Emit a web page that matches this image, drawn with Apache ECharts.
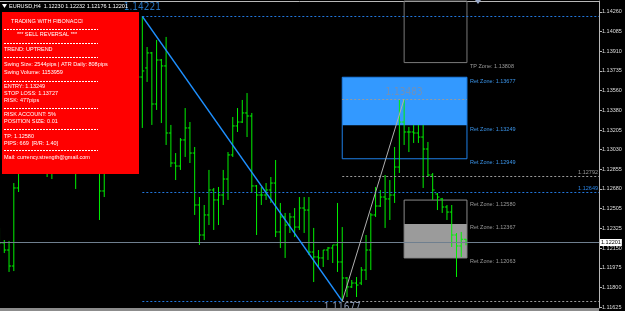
<!DOCTYPE html>
<html><head><meta charset="utf-8">
<script src="https://cdn.jsdelivr.net/npm/echarts@6/dist/echarts.min.js"></script>
<style>html,body{margin:0;padding:0;background:#000;overflow:hidden}#c{width:625px;height:311px}</style>
</head><body><div id="c"></div>
<script>
// ---- data (EURUSD H4) ----
const opens = [1.12268,1.12197,1.12134,1.11991,1.12688,1.12938,1.13027,1.13117,1.12983,1.13072,
1.12938,1.13027,1.12849,1.13027,1.13161,1.13117,1.12893,1.12938,1.13072,1.13027,
1.12956,1.12893,1.12661,1.12893,1.13161,1.13340,1.13519,1.13652,1.13786,1.13876,
1.13679,1.13760,1.13894,1.13438,1.13831,1.13778,1.13179,1.12911,1.12884,1.13117,
1.13224,1.13000,1.12536,1.12268,1.12447,1.12670,1.12581,1.12625,1.12768,1.12983,
1.13242,1.13277,1.13358,1.13331,1.12706,1.12625,1.12625,1.12670,1.12732,1.12295,
1.12429,1.12357,1.12429,1.12339,1.12509,1.12491,1.12116,1.12072,1.12063,1.12134,
1.12152,1.12179,1.12027,1.11884,1.11804,1.11839,1.11839,1.11955,1.12134,1.12447,
1.12527,1.12607,1.12590,1.12625,1.12875,1.13277,1.13188,1.13188,1.13179,1.13143,
1.13036,1.12804,1.12634,1.12590,1.12518,1.12473,1.12268,1.12170,1.12230];
const highs = [1.12331,1.12223,1.12214,1.12732,1.13027,1.13117,1.13206,1.13251,1.13161,1.13206,
1.13072,1.13117,1.13072,1.13206,1.13295,1.13161,1.13027,1.13117,1.13161,1.13117,
1.13072,1.13027,1.12938,1.13206,1.13385,1.13563,1.13742,1.13831,1.13965,1.14054,
1.14221,1.13947,1.13903,1.14010,1.13840,1.14037,1.13251,1.13000,1.13134,1.13402,
1.13277,1.13054,1.12607,1.12536,1.12849,1.12688,1.12697,1.12849,1.13009,1.13322,
1.13402,1.13474,1.13536,1.13358,1.12715,1.12697,1.12732,1.12786,1.12938,1.12554,
1.12465,1.12465,1.12509,1.12607,1.12607,1.12607,1.12331,1.12134,1.12134,1.12161,
1.12179,1.12554,1.12339,1.11893,1.11866,1.11893,1.11982,1.12268,1.12465,1.12697,
1.12670,1.12804,1.12759,1.13054,1.13474,1.13483,1.13233,1.13251,1.13251,1.13251,
1.13099,1.12822,1.12643,1.12599,1.12536,1.12536,1.12286,1.12295,1.12232];
const lows = [1.12134,1.12107,1.11938,1.11946,1.12652,1.12849,1.12893,1.12938,1.12849,1.12866,
1.12786,1.12768,1.12822,1.12938,1.13027,1.12849,1.12679,1.12866,1.12938,1.12893,
1.12831,1.12402,1.12607,1.12849,1.13117,1.13295,1.13429,1.13563,1.13697,1.13652,
1.13224,1.13635,1.13251,1.13385,1.13268,1.13072,1.12875,1.12759,1.12849,1.12965,
1.12911,1.12447,1.12179,1.12223,1.12357,1.12313,1.12357,1.12536,1.12581,1.12965,
1.13188,1.13268,1.13143,1.12652,1.12268,1.12536,1.12581,1.12554,1.12250,1.12152,
1.12063,1.12286,1.12250,1.12313,1.12286,1.12089,1.11848,1.11982,1.11982,1.12045,
1.12018,1.11938,1.11677,1.11714,1.11795,1.11714,1.11821,1.11866,1.11955,1.12429,
1.12518,1.12331,1.12402,1.12554,1.12822,1.13072,1.13009,1.13090,1.13090,1.12688,
1.12786,1.12581,1.12491,1.12465,1.12402,1.12161,1.11893,1.12072,1.12176];
const closes = [1.12197,1.12134,1.11991,1.12688,1.12938,1.13027,1.13117,1.12983,1.13072,1.12938,
1.13027,1.12849,1.13027,1.13161,1.13117,1.12893,1.12938,1.13072,1.13027,1.12956,
1.12893,1.12661,1.12893,1.13161,1.13340,1.13519,1.13652,1.13786,1.13876,1.13679,
1.13733,1.13894,1.13438,1.13831,1.13778,1.13179,1.12911,1.12884,1.13117,1.13224,
1.13000,1.12536,1.12268,1.12447,1.12670,1.12581,1.12625,1.12768,1.12983,1.13242,
1.13277,1.13358,1.13331,1.12706,1.12625,1.12625,1.12670,1.12732,1.12295,1.12429,
1.12357,1.12429,1.12339,1.12509,1.12491,1.12116,1.12072,1.12063,1.12134,1.12152,
1.12179,1.12027,1.11884,1.11804,1.11839,1.11821,1.11955,1.12134,1.12447,1.12527,
1.12607,1.12590,1.12625,1.12875,1.13277,1.13188,1.13188,1.13179,1.13143,1.13036,
1.12804,1.12670,1.12607,1.12518,1.12473,1.12268,1.12170,1.12230,1.12201];

const priceTicks = [1.14260,1.14085,1.13910,1.13735,1.13560,1.13380,1.13205,1.13030,
  1.12855,1.12680,1.12505,1.12325,1.12150,1.11975,1.11800,1.11625];

// swing points: high -> low -> retracement high
const swingBars = [30, 72, 85];
const swingPrices = [1.14221, 1.11677, 1.13483];

// zone levels (labels on the right of the boxes)
const zoneNames  = ['TP Zone','Ret Zone','Ret Zone','Ret Zone','Ret Zone','Ret Zone','Ret Zone'];
const zonePrices = [1.13808, 1.13677, 1.13249, 1.12949, 1.12580, 1.12367, 1.12063];
const zoneKinds  = ['tp','ret','ret','ret','tp','tp','tp'];

const lastPrice = 1.12201;
const levelA = 1.12792;
const levelB = 1.12649;

const panelLines = ['TRADING WITH FIBONACCI','*** SELL REVERSAL ***','TREND: UPTREND',
 'Swing Size: 2544pips | ATR Daily: 808pips','Swing Volume: 1153959',
 'ENTRY: 1.13249','STOP LOSS: 1.13727','RISK: 477pips',
 'RISK ACCOUNT: 5%','POSITION SIZE: 0.01',
 'TP: 1.12580','PIPS: 669  [R/R: 1.40]',
 'Mail: currency.strength@gmail.com'];
const headerText = 'EURUSD,H4  1.12230 1.12232 1.12176 1.12201';

// ---- chart ----
const X_MIN = 0.1, X_MAX = 125.94, Y_MIN = 1.11616, Y_MAX = 1.14358;
const BOX_END = 98.2;
const F = '"Liberation Sans", Arial, sans-serif';
const FN = '"Liberation Sans Narrow", "Arial Narrow", "DejaVu Sans Condensed", sans-serif';

const bars = opens.map((o,i)=>[i,o,highs[i],lows[i],closes[i]]);
const [hiBar, loBar, pkBar] = swingBars;
const [hiP, loP, pkP] = swingPrices;

const chart = echarts.init(document.getElementById('c'), null, {renderer:'canvas'});

const blueDot = {color:'#2277dd', type:[2,2], width:1};
const greyDash = {color:'#9a9a9a', type:[2,2], width:1};

const swingLabelStyles = [
  {position:'top', distance:4, color:'#2e8fee'},
  {position:'bottom', distance:1, color:'#a8b8d8'},
  {position:'top', distance:2, color:'#7f8fa8'}
];

const option = {
  backgroundColor:'#000',
  animation:false,
  grid:{left:0, right:26, top:1, bottom:3},
  xAxis:{type:'value', min:X_MIN, max:X_MAX, position:'top',
    axisLine:{show:true, lineStyle:{color:'#b8b8b8'}}, axisTick:{show:false},
    axisLabel:{show:false}, splitLine:{show:false}},
  yAxis:{type:'value', min:Y_MIN, max:Y_MAX, position:'right',
    axisLine:{show:true, lineStyle:{color:'#b8b8b8'}},
    axisTick:{show:true, length:3, customValues:priceTicks, lineStyle:{color:'#b8b8b8'}},
    axisLabel:{show:true, customValues:priceTicks, margin:3, color:'#dcdcdc',
      fontSize:5.5, fontFamily:F, formatter:v=>v.toFixed(5)},
    splitLine:{show:false}},
  series:[
    { // zone boxes
      type:'scatter', data:[], z:1, silent:true,
      markArea:{silent:true, label:{show:false}, data:[
        [{coord:[loBar, zonePrices[1]], itemStyle:{color:'#3399ff', borderWidth:0}}, {coord:[BOX_END, zonePrices[2]]}],
        [{coord:[loBar, zonePrices[1]], itemStyle:{color:'rgba(0,0,0,0)', borderColor:'#1e7fe6', borderWidth:1}}, {coord:[BOX_END, zonePrices[3]]}],
        [{coord:[pkBar, zonePrices[5]], itemStyle:{color:'#9b9b9b', borderWidth:0}}, {coord:[BOX_END, zonePrices[6]]}],
        [{coord:[pkBar, zonePrices[4]], itemStyle:{color:'rgba(0,0,0,0)', borderColor:'#8a8a8a', borderWidth:1}}, {coord:[BOX_END, zonePrices[6]]}],
        [{coord:[pkBar, zonePrices[0]], itemStyle:{color:'rgba(0,0,0,0)', borderColor:'#7a7a7a', borderWidth:1}}, {coord:[BOX_END, Y_MAX+0.0005]}]
      ]}
    },
    { // OHLC bars
      type:'custom', z:3, clip:true, data:bars, encode:{x:0, y:[1,2,3,4]},
      renderItem:function(params, api){
        const x = api.value(0);
        const o = api.coord([x, api.value(1)]);
        const h = api.coord([x, api.value(2)]);
        const l = api.coord([x, api.value(3)]);
        const c = api.coord([x, api.value(4)]);
        const px = o[0];
        const st = {stroke:'#00f000', lineWidth:1};
        return {type:'group', children:[
          {type:'line', shape:{x1:px, y1:h[1], x2:px, y2:l[1]}, style:st},
          {type:'line', shape:{x1:px-2, y1:o[1], x2:px, y2:o[1]}, style:st},
          {type:'line', shape:{x1:px, y1:c[1], x2:px+2, y2:c[1]}, style:st}
        ]};
      }
    },
    { // level lines
      type:'scatter', data:[], z:4, silent:true,
      markLine:{silent:true, symbol:'none', animation:false, data:[
        [{coord:[hiBar, hiP], lineStyle:blueDot, label:{show:false}}, {coord:[X_MAX, hiP]}],
        [{coord:[hiBar, loP], lineStyle:blueDot, label:{show:false}}, {coord:[loBar, loP]}],
        [{coord:[loBar, loP], lineStyle:greyDash, label:{show:false}}, {coord:[X_MAX, loP]}],
        [{coord:[loBar, pkP], lineStyle:greyDash, label:{show:false}}, {coord:[BOX_END, pkP]}],
        [{coord:[loBar, levelA], lineStyle:greyDash,
          label:{show:true, position:'insideEndTop', distance:[1,1], formatter:levelA.toFixed(5), color:'#9a9a9a', fontSize:5.5, fontFamily:F}},
         {coord:[X_MAX, levelA]}],
        [{coord:[hiBar, levelB], lineStyle:blueDot,
          label:{show:true, position:'insideEndTop', distance:[1,1], formatter:levelB.toFixed(5), color:'#2a86e8', fontSize:5.5, fontFamily:F}},
         {coord:[X_MAX, levelB]}],
        [{coord:[X_MIN, lastPrice], lineStyle:{color:'#6f7f8f', type:'solid', width:1},
          label:{show:true, position:'end', distance:1, formatter:lastPrice.toFixed(5), color:'#000',
            backgroundColor:'#fff', padding:[1,1,0,1], fontSize:5.5, fontFamily:F}},
         {coord:[X_MAX, lastPrice]}]
      ]}
    },
    { // swing line high -> low
      type:'line', z:5, symbol:'none', silent:true, data:[[hiBar,hiP],[loBar,loP]],
      lineStyle:{color:'#1e90ff', width:1.5}
    },
    { // swing line low -> retracement high
      type:'line', z:5, symbol:'none', silent:true, data:[[loBar,loP],[pkBar,pkP]],
      lineStyle:{color:'#b0b0b0', width:1}
    },
    { // swing labels
      type:'scatter', z:6, symbolSize:0, silent:true,
      data:swingBars.map((b,i)=>({value:[b, swingPrices[i]],
        label:{show:true, position:swingLabelStyles[i].position, distance:swingLabelStyles[i].distance,
          color:swingLabelStyles[i].color, fontSize:10, fontFamily:FN, formatter:swingPrices[i].toFixed(5)}}))
    },
    { // zone labels
      type:'custom', z:6, silent:true, clip:false,
      data:zonePrices.map((p,i)=>[BOX_END, p, i]),
      renderItem:function(params, api){
        const i = api.value(2);
        const pt = api.coord([api.value(0), api.value(1)]);
        return {type:'text', x:pt[0]+3, y:pt[1]+1,
          style:{text:zoneNames[i]+': '+zonePrices[i].toFixed(5), fill: zoneKinds[i]==='ret' ? '#3b95ea' : '#9a9a9a',
            font:'5.5px '+F, verticalAlign:'top', align:'left'}};
      }
    }
  ],
  graphic:[]
};

// info panel + header
const g = [];
g.push({type:'rect', z:100, shape:{x:2, y:12, width:137, height:162}, style:{fill:'#ff0000'}});
const lineYs = [21,34,49,64,72,86,93,100,114,121,136,143,157];
const sepYs = [29,43,57,81,108,129,150];
panelLines.forEach((t,i)=>{
  const centered = i<2;
  g.push({type:'text', z:101, x: centered ? 47 : 4, y: lineYs[i],
    style:{text:t, fill:'#fff', font:'5.5px '+F, verticalAlign:'middle', align: centered ? 'center':'left'}});
});
sepYs.forEach(y=>g.push({type:'line', z:101, shape:{x1:4, y1:y+0.5, x2:98, y2:y+0.5},
  style:{stroke:'#fff', lineWidth:1, lineDash:[2,1]}}));
g.push({type:'polygon', z:101, shape:{points:[[2,4],[7,4],[4.5,8]]}, style:{fill:'#fff'}});
g.push({type:'text', z:101, x:9, y:6, style:{text:headerText, fill:'#fff', font:'5.5px '+F, verticalAlign:'middle'}});
g.push({type:'polygon', z:101, shape:{points:[[475,0],[481,0],[478,4]]}, style:{fill:'#98a8c8'}});
g.push({type:'rect', z:101, shape:{x:0, y:308, width:599, height:3}, style:{fill:'#8c8c8c'}});
option.graphic = g;

chart.setOption(option);
</script>
</body></html>
